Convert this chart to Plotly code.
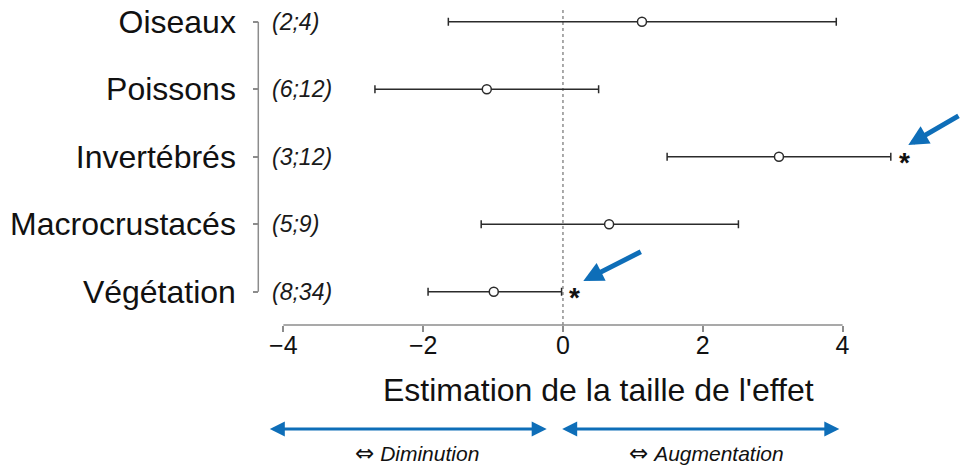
import plotly.graph_objects as go

# Effect-size estimates with confidence bounds, one row per group
groups = ["Oiseaux", "Poissons", "Invertébrés", "Macrocrustacés", "Végétation"]
counts = ["(2;4)", "(6;12)", "(3;12)", "(5;9)", "(8;34)"]
estimate = [1.13, -1.09, 3.09, 0.66, -0.99]
lower = [-1.64, -2.69, 1.49, -1.17, -1.93]
upper = [3.91, 0.51, 4.69, 2.51, -0.02]
significant = [False, False, True, False, True]

x_ticks = [-4, -2, 0, 2, 4]
x_title = "Estimation de la taille de l'effet"
side_words = ["Diminution", "Augmentation"]

FONT = "Liberation Sans, Arial, Helvetica, sans-serif"
W, H = 960, 465
BLUE = "#0E6EB8"
INK = "#2b2b2b"
AXIS_GREY = "#8c8c8c"

# rows from top (5) to bottom (1)
rows = list(range(len(groups), 0, -1))

# pixel layout helpers (paper fractions)
def px(xpix):
    return xpix / W

def py(ypix):
    return 1 - ypix / H

# data ranges chosen so that the whole window is the plotting area
X_RANGE = [-8.054, 5.680]
Y_RANGE = [-1.5674, 5.3215]

fig = go.Figure()

fig.add_trace(go.Scatter(
    x=estimate,
    y=rows,
    mode="markers",
    marker=dict(symbol="circle", size=9, color="white",
                line=dict(color=INK, width=1.5)),
    error_x=dict(
        type="data",
        symmetric=False,
        array=[u - e for u, e in zip(upper, estimate)],
        arrayminus=[e - l for e, l in zip(estimate, lower)],
        color=INK,
        thickness=1.5,
        width=4,
    ),
    cliponaxis=False,
    showlegend=False,
    hoverinfo="skip",
))

shapes = []
# dotted reference line at zero
shapes.append(dict(type="line", xref="x", yref="paper", x0=0, x1=0,
                   y0=py(325), y1=py(7),
                   line=dict(color="#555555", width=1, dash="dot"), layer="below"))
# x axis line spanning the tick range
shapes.append(dict(type="line", xref="x", yref="paper", x0=x_ticks[0], x1=x_ticks[-1],
                   y0=py(325), y1=py(325),
                   line=dict(color=AXIS_GREY, width=1.5)))
# y axis bracket spanning the rows
shapes.append(dict(type="line", xref="paper", yref="y", x0=px(258.3), x1=px(258.3),
                   y0=rows[-1], y1=rows[0],
                   line=dict(color=AXIS_GREY, width=1.5)))

annotations = []
# sample counts next to the axis
for r, c in zip(rows, counts):
    annotations.append(dict(xref="paper", yref="y", x=px(270), y=r, text=f"<i>{c}</i>",
                            showarrow=False, xanchor="left", yanchor="middle",
                            font=dict(family=FONT, size=23, color="#1a1a1a")))
# significance stars
for r, u, s in zip(rows, upper, significant):
    if s:
        annotations.append(dict(xref="x", yref="y", x=u + 0.19, y=r, text="<b>*</b>",
                                showarrow=False, xanchor="center", yanchor="middle",
                                yshift=-6,
                                font=dict(family=FONT, size=28, color="#111111")))
# axis title
annotations.append(dict(xref="paper", yref="paper", x=px(598), y=py(389.5), text=x_title,
                        showarrow=False, xanchor="center", yanchor="middle",
                        font=dict(family=FONT, size=32, color="#111111")))
# blue pointers to the significant results
annotations.append(dict(xref="paper", yref="paper", x=px(908.3), y=py(145), text="",
                        showarrow=True, ax=56, ay=-30, axref="pixel", ayref="pixel",
                        arrowhead=2, arrowwidth=5, arrowsize=0.8, arrowcolor=BLUE, standoff=0))
annotations.append(dict(xref="paper", yref="paper", x=px(583.3), y=py(281), text="",
                        showarrow=True, ax=59, ay=-30, axref="pixel", ayref="pixel",
                        arrowhead=2, arrowwidth=5, arrowsize=0.8, arrowcolor=BLUE, standoff=0))
# direction arrows under the axis
for (x_start, x_end), word, xc in zip([(268.3, 546.7), (560.7, 839.3)], side_words, [417, 706]):
    annotations.append(dict(xref="paper", yref="paper", x=px(x_end), y=py(429), text="",
                            showarrow=True, ax=-(x_end - x_start), ay=0,
                            axref="pixel", ayref="pixel",
                            arrowhead=2, startarrowhead=2, arrowside="end+start",
                            arrowwidth=3, arrowsize=1, startarrowsize=1,
                            arrowcolor=BLUE, standoff=0, startstandoff=0))
    label = ('<span style="font-family:DejaVu Sans;font-size:23px">\u21d4</span> '
             f"<i>{word}</i>")
    annotations.append(dict(xref="paper", yref="paper", x=px(xc), y=py(453), text=label,
                            showarrow=False, xanchor="center", yanchor="middle",
                            font=dict(family=FONT, size=21, color="#111111")))

fig.update_layout(
    width=W, height=H,
    margin=dict(l=0, r=0, t=0, b=0, pad=0, autoexpand=False),
    paper_bgcolor="white",
    plot_bgcolor="white",
    showlegend=False,
    shapes=shapes,
    annotations=annotations,
    xaxis=dict(
        range=X_RANGE, domain=[0, 1],
        anchor="free", position=py(325),
        showgrid=False, zeroline=False, showline=False,
        tickmode="array", tickvals=x_ticks,
        ticks="outside", ticklen=6, tickwidth=1.5, tickcolor=AXIS_GREY,
        tickfont=dict(family=FONT, size=25, color="#111111"),
        ticklabelstandoff=-8,
        fixedrange=True,
    ),
    yaxis=dict(
        range=Y_RANGE, domain=[0, 1],
        anchor="free", position=px(258.3),
        showgrid=False, zeroline=False, showline=False,
        tickmode="array", tickvals=rows, ticktext=groups,
        ticks="outside", ticklen=5, tickwidth=1.5, tickcolor=AXIS_GREY,
        tickfont=dict(family=FONT, size=32, color="#111111"),
        ticklabelstandoff=11,
        fixedrange=True,
    ),
)

fig.write_html("out.html")
